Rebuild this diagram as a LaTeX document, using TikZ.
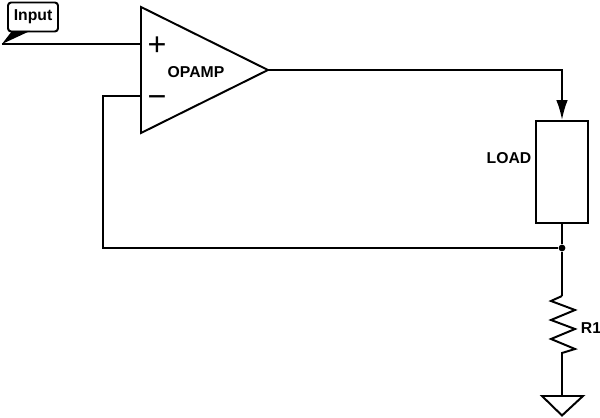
\documentclass[tikz,border=0pt]{standalone}
\usepackage{fontspec}
\setmainfont{Liberation Sans}
\usepackage{tikz}
\usetikzlibrary{arrows.meta,shapes.geometric}

\begin{document}
\begin{tikzpicture}[x=0.25mm, y=-0.25mm, line width=1.4pt]
	\tikzstyle{caption} = [font=\fontsize{11.2}{13}\bfseries\selectfont, inner sep=0pt]
	\tikzstyle{sign} = [font=\fontsize{23}{23}\selectfont, inner sep=0pt]
	\useasboundingbox (0, 0) rectangle (600, 418);
	\node (U1) [draw, isosceles triangle, isosceles triangle apex angle=53.5, isosceles triangle stretches, shape border rotate=0, inner sep=0pt, outer sep=0pt, minimum width=126*0.25mm, minimum height=127*0.25mm, anchor=apex] at (268, 70) {};
	\node (Load) [draw, minimum width=52*0.25mm, minimum height=102*0.25mm, inner sep=0pt] at (562, 172) {};
	\node (Input) [draw, rounded corners=2.2pt, minimum width=50*0.25mm, minimum height=29*0.25mm, inner sep=0pt, font=\fontsize{11.2}{13}\bfseries\selectfont] at (33, 17) {Input};
	\node (Opamp) [caption] at (196, 72) {OPAMP};
	\node (LoadText) [caption] at (509, 158) {LOAD};
	\node (R1Text) [caption, anchor=west] at (580, 328) {R1};
	\node (Plus) [sign] at (157, 46) {+};
	\node (Minus) [sign] at (157, 102) {−};
	\node (J1) [circle, fill, inner sep=0pt, minimum size=1.7mm] at (562, 248) {};
	\coordinate (Tip) at (2, 44);
	\coordinate (InP) at (141, 44);
	\coordinate (InN) at (141, 96);
	\coordinate (Corner) at (103, 248);
	\coordinate (R1a) at (562, 296);
	\coordinate (R1b) at (562, 353);
	\coordinate (Gnd) at (562, 396);
	\fill (Tip) -- (12, 31) -- (30, 31) -- cycle;
	\draw [-] (Tip)--(InP);
	\draw [-] (InN)-|(Corner)--(J1);
	\draw [-{Latex[length=5mm, width=2.9mm]}] (U1.apex)-|(Load.north);
	\draw [-] (Load.south)--(J1)--(R1a);
	\draw [-, line join=miter] (R1a)--(551, 301)--(575, 310)--(551, 320)--(575, 329)--(551, 339)--(575, 349)--(R1b)--(Gnd);
	\draw [-, line join=miter] (542, 396)--(583, 396)--(562, 415.5)--cycle;
\end{tikzpicture}
\end{document}
